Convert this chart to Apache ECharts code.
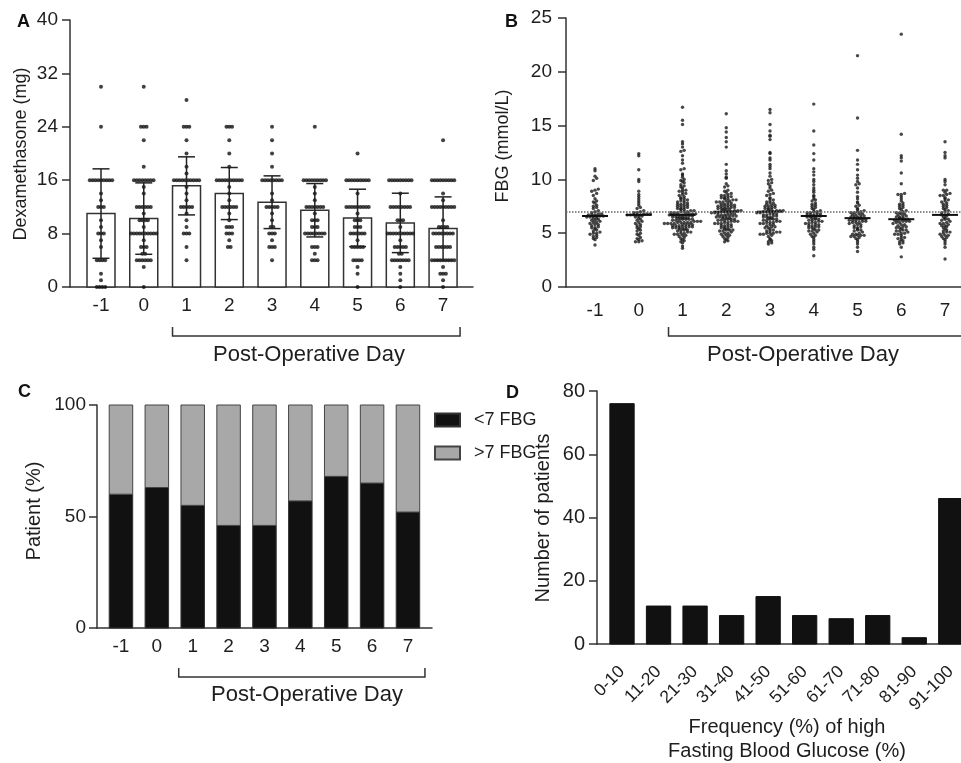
<!DOCTYPE html>
<html><head><meta charset="utf-8">
<script src="https://cdn.jsdelivr.net/npm/echarts@6/dist/echarts.min.js"></script>
<style>html,body{margin:0;padding:0;background:#fff}#c{width:961px;height:763px}</style>
</head><body><div id="c"></div>
<script>
// ---------- DATA ----------
const days = [-1, 0, 1, 2, 3, 4, 5, 6, 7];
// Panel A: dexamethasone (mg), mean and SD per day
const dexMean = [11.0, 10.25, 15.15, 14.0, 12.7, 11.5, 10.35, 9.6, 8.75];
const dexSD = [6.7, 5.35, 4.35, 3.9, 3.95, 4.0, 4.3, 4.45, 4.75];
// Panel A: individual doses per day
const dexDm1 = [30,24,16,16,16,16,16,16,16,16,16,14,13,12,12,12,10,9,8,8,8,7,6,4,4,4,4,2,1,0,0,0,0];
const dexD0 = [30,24,24,24,22,18,16,16,16,16,16,16,16,16,15,14,12,12,12,12,12,12,11,10,10,10,10,9,8,8,8,8,8,8,8,8,8,8,7,6,6,6,5,5,4,4,4,4,4,4,3,0];
const dexD1 = [28,24,24,24,22,20,18,17,16,16,16,16,16,16,16,16,16,16,15,14,13,12,12,12,12,12,11,10,9,8,8,8,6,4];
const dexD2 = [24,24,24,22,20,18,16,16,16,16,16,16,16,16,16,16,15,14,13,12,12,12,12,12,12,11,10,9,9,9,8,8,8,7,6,6];
const dexD3 = [24,22,20,18,16,16,16,16,16,16,16,16,14,13,12,12,12,12,12,11,10,9,9,8,8,8,7,6,6,6,4];
const dexD4 = [24,16,16,16,16,16,16,16,16,16,15,14,13,12,12,12,12,12,12,12,11,10,10,10,9,9,9,8,8,8,8,8,8,8,8,6,6,6,5,4,4,4];
const dexD5 = [20,16,16,16,16,16,16,16,16,16,14,12,12,12,12,12,12,12,12,12,11,10,10,10,9,9,9,8,8,8,8,8,8,7,6,6,6,6,6,4,4,4,4,3,2,0];
const dexD6 = [16,16,16,16,16,16,16,16,16,14,12,12,12,12,12,12,12,12,10,10,10,9,8,8,8,8,8,8,8,8,8,8,7,6,6,6,6,6,5,5,4,4,4,4,4,4,4,3,2,1,0];
const dexD7 = [22,16,16,16,16,16,16,16,16,16,14,13,12,12,12,12,12,12,12,12,12,10,9,9,9,9,8,8,8,8,8,8,8,8,6,6,6,6,6,6,4,4,4,4,4,4,4,4,4,3,2,2,2,1,0];

// Panel B: fasting blood glucose (mmol/L) per day
const fbgDm1 = [11.0,10.8,10.3,10.1,9.9,9.1,9.0,8.9,8.7,8.5,8.2,8.0,7.9,7.8,7.6,7.5,7.4,7.3,7.1,7.0,6.9,6.8,6.8,6.7,6.7,6.7,6.6,6.6,6.6,6.6,6.5,6.5,6.4,6.4,6.3,6.2,6.2,6.1,6.0,6.0,5.9,5.8,5.8,5.7,5.6,5.5,5.5,5.4,5.3,5.2,5.1,5.0,5.0,4.9,4.8,4.7,4.6,4.5,4.4,3.9];
const fbgD0 = [12.4,12.2,10.9,10.0,9.8,8.9,8.6,8.4,8.2,8.0,7.8,7.6,7.4,7.3,7.1,7.0,6.9,6.9,6.8,6.8,6.8,6.7,6.7,6.7,6.7,6.7,6.6,6.6,6.5,6.4,6.3,6.2,6.1,6.0,5.9,5.8,5.7,5.6,5.5,5.4,5.3,5.2,5.0,4.9,4.8,4.6,4.5,4.4,4.3,4.2,4.2];
const fbgD1 = [16.7,15.5,15.1,13.5,13.3,13.0,12.7,12.6,12.2,11.8,11.5,11.0,10.9,10.5,10.4,10.2,10.0,9.9,9.8,9.7,9.5,9.4,9.3,9.2,9.0,9.0,8.9,8.8,8.7,8.6,8.5,8.4,8.3,8.2,8.1,8.0,8.0,7.9,7.8,7.8,7.7,7.6,7.6,7.5,7.4,7.4,7.3,7.2,7.2,7.1,7.0,7.0,6.9,6.9,6.8,6.8,6.8,6.7,6.7,6.7,6.7,
  6.7,6.6,6.6,6.6,6.5,6.5,6.5,6.4,6.4,6.4,6.3,6.3,6.3,6.2,6.2,6.2,6.1,6.1,6.1,6.0,6.0,6.0,6.0,5.9,5.9,5.9,5.8,5.8,5.8,5.7,5.7,5.7,5.6,5.6,5.6,5.5,5.5,5.5,5.4,5.4,5.3,5.3,5.2,5.2,5.1,5.1,5.0,5.0,4.9,4.9,4.8,4.8,4.7,4.6,4.5,4.4,4.3,4.2,4.1,3.8,3.6,
  7.5,7.1,6.9,6.3,6.0,5.8,5.4,5.9,6.5,7.3,8.2,7.7,6.4,5.6,6.8,7.0];
const fbgD2 = [16.1,14.8,14.4,13.9,13.5,13.0,11.4,10.8,10.5,10.2,10.1,9.6,9.3,9.0,8.9,8.7,8.6,8.5,8.5,8.4,8.3,8.3,8.2,8.1,8.1,8.0,8.0,7.9,7.9,7.8,7.8,7.7,7.7,7.6,7.6,7.5,7.5,7.5,7.4,7.4,7.3,7.3,7.3,7.2,7.2,7.1,7.1,7.1,7.0,7.0,7.0,7.0,8.8,8.4,7.9,7.6,7.2,9.4,8.2,7.4,
  6.9,6.9,6.9,6.8,6.8,6.8,6.7,6.7,6.7,6.6,6.6,6.6,6.5,6.5,6.5,6.4,6.4,6.4,6.3,6.3,6.3,6.2,6.2,6.1,6.1,6.1,6.0,6.0,5.9,5.9,5.8,5.8,5.7,5.7,5.6,5.6,5.5,5.5,5.4,5.4,5.3,5.3,5.2,5.2,5.1,5.0,5.0,4.9,4.8,4.8,4.7,4.6,4.5,4.4,4.3,4.2,6.2,5.9,6.6,5.3];
const fbgD3 = [16.5,16.2,15.1,14.5,14.1,14.0,13.7,12.5,12.4,11.8,11.4,11.0,10.6,10.0,9.9,9.6,9.2,9.0,8.9,8.7,8.5,8.3,8.1,8.0,7.9,7.8,7.7,7.6,7.5,7.5,7.4,7.3,7.3,7.2,7.2,7.1,7.1,7.0,7.0,7.0,7.0,8.2,7.6,7.4,11.2,9.7,10.3,8.6,7.8,7.1,12.0,9.4,
  6.9,6.9,6.8,6.8,6.7,6.7,6.6,6.6,6.5,6.5,6.4,6.4,6.3,6.3,6.2,6.2,6.1,6.1,6.0,6.0,5.9,5.9,5.8,5.8,5.7,5.6,5.5,5.4,5.3,5.2,5.2,5.1,5.1,5.0,5.0,5.0,4.9,4.9,4.8,4.7,4.5,4.4,4.3,4.2,4.1,4.0,6.5,6.0,5.6,6.8,5.5,6.3];
const fbgD4 = [17.0,14.5,13.2,12.4,11.8,11.0,10.7,10.4,10.0,9.8,9.2,9.0,8.8,8.4,8.2,8.1,8.0,7.8,7.7,7.5,7.4,7.3,7.2,7.1,7.0,7.0,6.9,6.9,6.8,6.8,6.7,6.7,6.7,6.6,6.6,6.6,7.6,8.5,9.5,
  6.5,6.5,6.4,6.4,6.3,6.3,6.2,6.2,6.1,6.0,6.0,5.9,5.9,5.8,5.8,5.7,5.7,5.6,5.5,5.5,5.4,5.3,5.2,5.2,5.1,5.0,4.9,4.8,4.7,4.6,4.4,4.2,4.0,3.7,3.5,2.9,6.1,5.6,5.3];
const fbgD5 = [21.5,15.7,12.7,11.8,11.4,10.9,10.4,10.1,9.8,9.6,9.5,8.4,8.2,7.8,7.5,7.3,7.2,7.1,7.0,7.0,6.9,6.9,6.8,6.8,6.7,6.7,6.6,6.6,6.5,6.5,6.5,6.4,6.4,6.4,7.9,8.8,9.2,7.6,
  6.3,6.3,6.2,6.2,6.1,6.1,6.0,6.0,5.9,5.8,5.7,5.6,5.5,5.4,5.3,5.2,5.1,5.0,4.9,4.8,4.8,4.7,4.7,4.6,4.5,4.4,4.2,4.0,3.7,3.3,5.8,6.2,5.5,4.9,6.0,5.3,4.8,6.3];
const fbgD6 = [23.5,14.2,12.2,12.0,11.7,10.6,9.6,8.7,8.6,8.4,8.0,7.8,7.6,7.5,7.3,7.2,7.0,6.9,6.8,6.7,6.6,6.5,6.4,6.4,6.3,6.3,6.3,8.2,7.7,7.1,6.9,6.6,6.5,7.4,8.6,6.8,
  6.2,6.2,6.1,6.1,6.0,5.9,5.8,5.7,5.6,5.5,5.4,5.3,5.2,5.1,5.0,5.0,4.9,4.8,4.6,4.5,4.4,4.2,4.1,4.0,3.7,2.8,5.8,5.5,5.2,4.9,4.6,6.0,5.6,4.3,6.1,5.3];
const fbgD7 = [13.5,12.5,12.2,12.0,10.0,9.8,9.5,9.0,9.0,8.8,8.7,8.5,8.5,8.3,8.2,8.0,7.9,7.8,7.6,7.5,7.4,7.3,7.2,7.0,6.9,6.8,6.7,6.7,8.6,8.1,7.7,7.1,
  6.6,6.5,6.4,6.3,6.2,6.1,6.0,5.9,5.8,5.7,5.6,5.5,5.4,5.3,5.2,5.1,5.0,4.9,4.8,4.7,4.6,4.5,4.4,4.2,4.0,3.7,2.6,6.3,5.7,5.1,4.8,5.9];
const fbgMedian = [6.6, 6.7, 6.7, 7.0, 7.0, 6.6, 6.4, 6.3, 6.7];
const fbgThreshold = 7;

// Panel C: % of patients with FBG < 7 per day
const pctBelow7 = [60, 63, 55, 46, 46, 57, 68, 65, 52];

// Panel D: histogram
const freqBins = ['0-10','11-20','21-30','31-40','41-50','51-60','61-70','71-80','81-90','91-100'];
const freqCounts = [76, 12, 12, 9, 15, 9, 8, 9, 2, 46];

const postOpSpan = [1, 7];

// ---------- HELPERS ----------
const FONT = '"Liberation Sans", Arial, sans-serif';
const INK = '#1e1e1e';
const AX = {color: '#333', width: 1.5};

function swarm(vals, bin, spacing) {
  const groups = new Map();
  vals.slice().sort((a, b) => a - b).forEach(v => {
    const k = Math.round(v / bin);
    if (!groups.has(k)) groups.set(k, []);
    groups.get(k).push(v);
  });
  const out = [];
  groups.forEach(g => {
    const n = g.length;
    g.forEach((v, i) => out.push([v, (i - (n - 1) / 2) * spacing]));
  });
  return out;
}
function swarmData(perDay, bin, spacing) {
  const data = [];
  perDay.forEach((vals, i) => {
    swarm(vals, bin, spacing).forEach(([v, dx]) => data.push({value: [days[i], v], symbolOffset: [dx, 0]}));
  });
  return data;
}

const dexPoints = [dexDm1, dexD0, dexD1, dexD2, dexD3, dexD4, dexD5, dexD6, dexD7];
const fbgPoints = [fbgDm1, fbgD0, fbgD1, fbgD2, fbgD3, fbgD4, fbgD5, fbgD6, fbgD7];

function xVal(gi, min, max, labelOpt) {
  return Object.assign({
    gridIndex: gi, type: 'value', min: min, max: max,
    axisLine: {show: true, onZero: false, lineStyle: AX},
    axisTick: {show: false}, splitLine: {show: false}
  }, labelOpt);
}
function yVal(gi, max, interval, fs, margin) {
  return {
    gridIndex: gi, type: 'value', min: 0, max: max, interval: interval,
    axisLine: {show: true, onZero: false, lineStyle: AX},
    axisTick: {show: true, length: 8, lineStyle: AX},
    splitLine: {show: false},
    axisLabel: {fontSize: fs, color: INK, fontFamily: FONT, margin: margin}
  };
}
function bracketRender(params, api) {
  const a = api.coord([api.value(0), 0]);
  const b = api.coord([api.value(1), 0]);
  const y = a[1] + 49, x1 = a[0] - 14, x2 = b[0] + 17;
  return {type: 'polyline', shape: {points: [[x1, y - 9], [x1, y], [x2, y], [x2, y - 9]]},
    style: {stroke: '#333', lineWidth: 1.5, fill: null}};
}
function bracketSeries(gi) {
  return {type: 'custom', xAxisIndex: gi, yAxisIndex: gi, clip: false, silent: true,
    data: [postOpSpan], encode: {x: [0, 1]}, renderItem: bracketRender, z: 1};
}
function rangeBar(width, fill, stroke, lw) {
  return function (params, api) {
    const x = api.value(0);
    const lo = api.coord([x, api.value(1)]);
    const hi = api.coord([x, api.value(2)]);
    return {type: 'rect', shape: {x: lo[0] - width / 2, y: hi[1], width: width, height: lo[1] - hi[1]},
      style: {fill: fill, stroke: stroke, lineWidth: lw}};
  };
}

const chart = echarts.init(document.getElementById('c'), null, {renderer: 'canvas'});
const dayLabels = {customValues: days, fontSize: 19, color: INK, fontFamily: FONT};

const option = {
  animation: false,
  backgroundColor: '#fff',
  grid: [
    {left: 70, top: 20, width: 403, height: 267},
    {left: 566, top: 18, width: 395, height: 269},
    {left: 97, top: 405, width: 335, height: 223},
    {left: 597, top: 391, width: 364, height: 253}
  ],
  xAxis: [
    xVal(0, -1.725, 7.70, {axisLabel: Object.assign({margin: 9}, dayLabels)}),
    xVal(1, -1.663, 7.365, {axisLabel: Object.assign({margin: 14}, dayLabels)}),
    xVal(2, -1.668, 7.67, {axisLabel: Object.assign({margin: 9}, dayLabels)}),
    xVal(3, -0.685, 9.28, {axisLabel: {customValues: freqBins.map((_, i) => i),
      formatter: v => freqBins[Math.round(v)], rotate: 45, margin: 25,
      fontSize: 17.5, color: INK, fontFamily: FONT}})
  ],
  yAxis: [
    yVal(0, 40, 8, 19, 12),
    yVal(1, 25, 5, 19, 14),
    yVal(2, 100, 50, 19, 11),
    yVal(3, 80, 20, 20, 12)
  ],
  legend: {
    orient: 'vertical', left: 434, top: 411, itemWidth: 25, itemHeight: 13, itemGap: 15,
    padding: 0, icon: 'rect', selectedMode: false,
    textStyle: {fontSize: 18, color: INK, fontFamily: FONT, padding: [0, 0, 0, 9], lineHeight: 18},
    data: ['<7 FBG', '>7 FBG']
  },
  series: [
    // Panel A bars (mean)
    {type: 'custom', xAxisIndex: 0, yAxisIndex: 0, z: 2,
      data: days.map((d, i) => [d, 0, dexMean[i]]), encode: {x: 0, y: [1, 2]},
      renderItem: rangeBar(28, '#fff', '#333', 1.5)},
    // Panel A points
    {type: 'scatter', xAxisIndex: 0, yAxisIndex: 0, z: 3, symbol: 'circle', symbolSize: 4,
      itemStyle: {color: '#111'}, data: swarmData(dexPoints, 0.4, 2.8), silent: true},
    // Panel A error bars (SD)
    {type: 'custom', xAxisIndex: 0, yAxisIndex: 0, z: 4, silent: true,
      data: days.map((d, i) => [d, dexMean[i], dexSD[i]]), encode: {x: 0, y: 1},
      renderItem: function (params, api) {
        const x = api.value(0), m = api.value(1), s = api.value(2);
        const t = api.coord([x, m + s]), b = api.coord([x, Math.max(0, m - s)]);
        const cw = 17, st = {stroke: '#222', lineWidth: 1.5};
        return {type: 'group', children: [
          {type: 'line', shape: {x1: t[0], y1: t[1], x2: b[0], y2: b[1]}, style: st},
          {type: 'line', shape: {x1: t[0] - cw / 2, y1: t[1], x2: t[0] + cw / 2, y2: t[1]}, style: st},
          {type: 'line', shape: {x1: b[0] - cw / 2, y1: b[1], x2: b[0] + cw / 2, y2: b[1]}, style: st}
        ]};
      }},
    bracketSeries(0),
    // Panel B points
    {type: 'scatter', xAxisIndex: 1, yAxisIndex: 1, z: 3, symbol: 'circle', symbolSize: 3.4,
      itemStyle: {color: '#1a1a1a'}, data: swarmData(fbgPoints, 0.2, 3.3), silent: true,
      markLine: {silent: true, symbol: 'none', label: {show: false},
        lineStyle: {type: 'dotted', color: '#666', width: 1.5},
        data: [{yAxis: fbgThreshold}]}},
    // Panel B medians
    {type: 'custom', xAxisIndex: 1, yAxisIndex: 1, z: 4, silent: true,
      data: days.map((d, i) => [d, fbgMedian[i]]), encode: {x: 0, y: 1},
      renderItem: function (params, api) {
        const p = api.coord([api.value(0), api.value(1)]);
        return {type: 'line', shape: {x1: p[0] - 13, y1: p[1], x2: p[0] + 13, y2: p[1]},
          style: {stroke: '#111', lineWidth: 2}};
      }},
    bracketSeries(1),
    // Panel C stacked percent bars
    {name: '<7 FBG', type: 'custom', xAxisIndex: 2, yAxisIndex: 2, z: 2,
      itemStyle: {color: '#111', borderColor: '#333', borderWidth: 1},
      data: days.map((d, i) => [d, 0, pctBelow7[i]]), encode: {x: 0, y: [1, 2]},
      renderItem: rangeBar(23.5, '#111', '#333', 1)},
    {name: '>7 FBG', type: 'custom', xAxisIndex: 2, yAxisIndex: 2, z: 2,
      itemStyle: {color: '#a8a8a8', borderColor: '#444', borderWidth: 1},
      data: days.map((d, i) => [d, pctBelow7[i], 100]), encode: {x: 0, y: [1, 2]},
      renderItem: rangeBar(23.5, '#a8a8a8', '#444', 1)},
    bracketSeries(2),
    // Panel D histogram
    {type: 'custom', xAxisIndex: 3, yAxisIndex: 3, z: 2,
      data: freqCounts.map((c, i) => [i, 0, c]), encode: {x: 0, y: [1, 2]},
      renderItem: rangeBar(24.3, '#111', '#111', 1)}
  ],
  graphic: [
    {type: 'text', left: 17, top: 13, style: {text: 'A', font: 'bold 18px ' + FONT, fill: '#111'}},
    {type: 'text', left: 505, top: 13, style: {text: 'B', font: 'bold 18px ' + FONT, fill: '#111'}},
    {type: 'text', left: 18, top: 383, style: {text: 'C', font: 'bold 18px ' + FONT, fill: '#111'}},
    {type: 'text', left: 506, top: 384, style: {text: 'D', font: 'bold 18px ' + FONT, fill: '#111'}},
    {type: 'text', x: 21, y: 154, rotation: Math.PI / 2,
      style: {text: 'Dexamethasone (mg)', font: '18px ' + FONT, fill: INK, align: 'center', verticalAlign: 'middle'}},
    {type: 'text', x: 503, y: 146, rotation: Math.PI / 2,
      style: {text: 'FBG (mmol/L)', font: '18px ' + FONT, fill: INK, align: 'center', verticalAlign: 'middle'}},
    {type: 'text', x: 34, y: 511, rotation: Math.PI / 2,
      style: {text: 'Patient (%)', font: '20px ' + FONT, fill: INK, align: 'center', verticalAlign: 'middle'}},
    {type: 'text', x: 543, y: 518, rotation: Math.PI / 2,
      style: {text: 'Number of patients', font: '20px ' + FONT, fill: INK, align: 'center', verticalAlign: 'middle'}},
    {type: 'text', x: 309, y: 355,
      style: {text: 'Post-Operative Day', font: '22px ' + FONT, fill: INK, align: 'center', verticalAlign: 'middle'}},
    {type: 'text', x: 803, y: 355,
      style: {text: 'Post-Operative Day', font: '22px ' + FONT, fill: INK, align: 'center', verticalAlign: 'middle'}},
    {type: 'text', x: 307, y: 695,
      style: {text: 'Post-Operative Day', font: '22px ' + FONT, fill: INK, align: 'center', verticalAlign: 'middle'}},
    {type: 'text', x: 787, y: 727,
      style: {text: 'Frequency (%) of high', font: '20px ' + FONT, fill: INK, align: 'center', verticalAlign: 'middle'}},
    {type: 'text', x: 787, y: 751,
      style: {text: 'Fasting Blood Glucose (%)', font: '20px ' + FONT, fill: INK, align: 'center', verticalAlign: 'middle'}}
  ]
};
chart.setOption(option);
</script>
</body></html>
